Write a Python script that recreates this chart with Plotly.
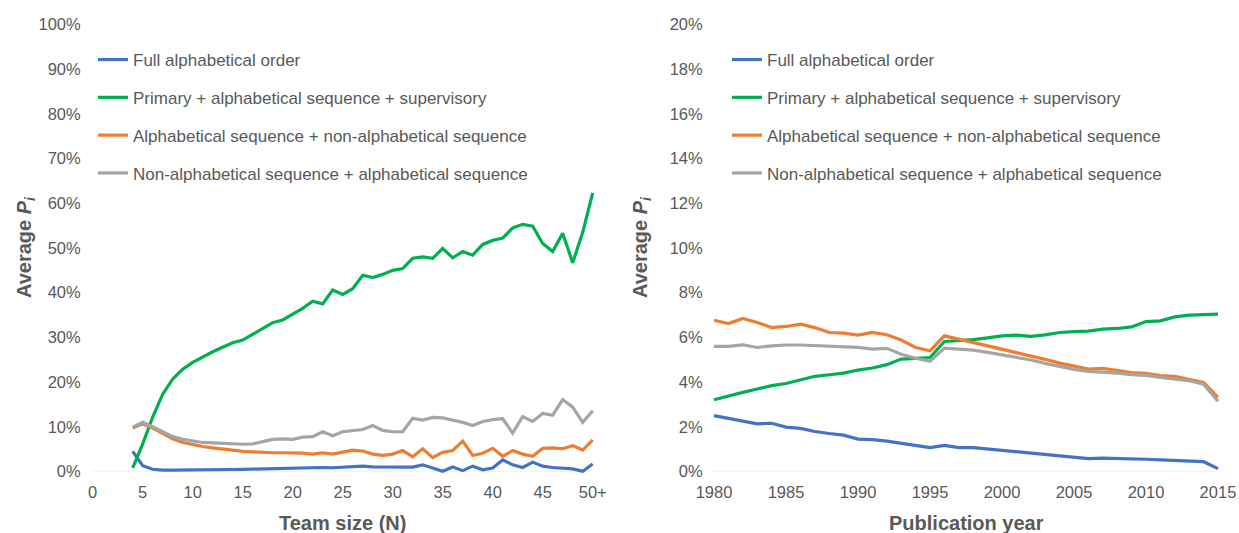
import plotly.graph_objects as go

# Team size categories (50 stands for "50+")
team_size = list(range(4, 51))
team_ticks = [0, 5, 10, 15, 20, 25, 30, 35, 40, 45, 50]
team_tick_text = ['0', '5', '10', '15', '20', '25', '30', '35', '40', '45', '50+']

full_alpha_team = [4.5, 1.3, 0.5, 0.3, 0.3, 0.3, 0.3, 0.3, 0.35, 0.4, 0.45, 0.5,
                   0.55, 0.6, 0.65, 0.8, 0.8, 0.85, 0.95, 0.9, 0.85, 1.0, 1.0,
                   1.2, 1.05, 1.0, 1.05, 1.0, 1.0, 1.5, 0.7, 0.05, 1.0, 0.2, 1.2,
                   0.4, 0.8, 2.6, 1.5, 0.9, 2.1, 1.2, 0.9, 0.8, 0.6, 0.05, 1.7]
primary_team = [0.8, 6.2, 12.2, 17.3, 20.7, 22.9, 24.4, 25.7, 26.8, 27.8, 28.8,
                29.4, 30.7, 32.2, 33.3, 33.9, 35.2, 36.5, 38.1, 37.5, 40.6,
                39.6, 40.9, 43.9, 43.4, 44.1, 45.0, 45.4, 47.7, 48.0, 47.7,
                49.9, 47.8, 49.2, 48.4, 50.8, 51.7, 52.2, 54.5, 55.3, 54.9,
                51.0, 49.2, 53.3, 46.7, 53.5, 62.3]
alpha_nonalpha_team = [9.7, 10.7, 9.7, 8.4, 7.3, 6.5, 6.0, 5.6, 5.3, 5.1, 4.8,
                       4.5, 4.4, 4.2, 4.2, 4.2, 4.2, 4.1, 3.9, 4.2, 3.9, 4.3,
                       4.8, 4.6, 3.9, 3.6, 3.9, 4.7, 3.3, 5.1, 3.1, 4.3, 4.7,
                       6.8, 3.6, 4.1, 5.2, 3.4, 4.7, 3.9, 3.4, 5.2, 5.3, 5.1,
                       5.8, 4.8, 7.1]
nonalpha_alpha_team = [9.9, 11.0, 10.0, 8.8, 7.8, 7.2, 6.8, 6.5, 6.4, 6.3, 6.1,
                       6.1, 6.2, 6.7, 7.2, 7.3, 7.2, 7.7, 7.8, 8.9, 8.0, 8.9,
                       9.1, 9.4, 10.3, 9.2, 8.9, 8.9, 11.9, 11.5, 12.1, 12.0,
                       11.5, 11.0, 10.3, 11.2, 11.6, 11.8, 8.6, 12.3, 11.2,
                       13.0, 12.6, 16.1, 14.4, 11.0, 13.6]

# Publication years
years = list(range(1980, 2016))
year_ticks = [1980, 1985, 1990, 1995, 2000, 2005, 2010, 2015]

full_alpha_year = [2.50, 2.38, 2.27, 2.13, 2.16, 1.99, 1.93, 1.79, 1.70, 1.63,
                   1.45, 1.43, 1.36, 1.27, 1.17, 1.07, 1.17, 1.07, 1.07, 1.01,
                   0.95, 0.88, 0.80, 0.74, 0.68, 0.64, 0.58, 0.60, 0.59, 0.57,
                   0.55, 0.52, 0.49, 0.47, 0.44, 0.13]
primary_year = [3.21, 3.39, 3.54, 3.69, 3.84, 3.94, 4.09, 4.26, 4.33, 4.40,
                4.54, 4.63, 4.78, 5.03, 5.06, 5.10, 5.82, 5.85, 5.90, 5.98,
                6.07, 6.10, 6.05, 6.11, 6.22, 6.26, 6.28, 6.37, 6.40, 6.47,
                6.71, 6.74, 6.92, 7.00, 7.01, 7.04]
alpha_nonalpha_year = [6.77, 6.62, 6.85, 6.67, 6.44, 6.49, 6.59, 6.44, 6.22,
                       6.19, 6.10, 6.22, 6.12, 5.88, 5.55, 5.40, 6.07, 5.92,
                       5.80, 5.65, 5.48, 5.33, 5.18, 5.02, 4.85, 4.73, 4.58,
                       4.61, 4.51, 4.43, 4.39, 4.29, 4.26, 4.14, 3.99, 3.32]
nonalpha_alpha_year = [5.60, 5.60, 5.67, 5.55, 5.62, 5.66, 5.66, 5.64, 5.62,
                       5.58, 5.55, 5.48, 5.51, 5.25, 5.07, 4.93, 5.52, 5.48,
                       5.43, 5.33, 5.22, 5.13, 4.99, 4.84, 4.69, 4.57, 4.48,
                       4.45, 4.40, 4.33, 4.30, 4.21, 4.14, 4.06, 3.91, 3.14]

team_pct_ticks = list(range(0, 101, 10))
year_pct_ticks = list(range(0, 21, 2))

series_names = ['Full alphabetical order',
                'Primary + alphabetical sequence + supervisory',
                'Alphabetical sequence + non-alphabetical sequence',
                'Non-alphabetical sequence + alphabetical sequence']
colors = ['#4472C4', '#00B050', '#ED7D31', '#A5A5A5']

FONT = 'Liberation Sans, Arial, sans-serif'
TEXT = '#595959'
W, H = 1239, 533
MT, MB = 20, 57


def px(x):
    return x / W


def py(y):
    # pixel row -> paper fraction
    return (H - MB - y) / (H - MT - MB)


fig = go.Figure()

left = [full_alpha_team, primary_team, alpha_nonalpha_team, nonalpha_alpha_team]
right = [full_alpha_year, primary_year, alpha_nonalpha_year, nonalpha_alpha_year]

for i, (name, color, vals) in enumerate(zip(series_names, colors, left)):
    fig.add_trace(go.Scatter(
        x=team_size, y=vals, name=name, mode='lines',
        line=dict(color=color, width=3.2),
        xaxis='x', yaxis='y', legend='legend',
        legendgroup=f'l{i}'))

for i, (name, color, vals) in enumerate(zip(series_names, colors, right)):
    fig.add_trace(go.Scatter(
        x=years, y=vals, name=name, mode='lines',
        line=dict(color=color, width=3.2),
        xaxis='x2', yaxis='y2', legend='legend2',
        legendgroup=f'r{i}'))

tick_font = dict(family=FONT, size=16.5, color=TEXT)
title_font = dict(family=FONT, size=20, color=TEXT)

axis_common = dict(showgrid=False, zeroline=False, showline=False, ticks='',
                   tickfont=tick_font, automargin=False)

l_dom = [px(87.7), px(597.7)]
r_dom = [px(709.7), px(1222.3)]

legend_style = dict(xanchor='left', yanchor='top',
                    font=dict(family=FONT, size=17, color=TEXT),
                    tracegroupgap=12.7, bgcolor='rgba(0,0,0,0)')

fig.update_layout(
    template='simple_white',
    width=W, height=H,
    margin=dict(l=0, r=0, t=MT, b=MB),
    paper_bgcolor='white', plot_bgcolor='white',
    showlegend=True,
    xaxis=dict(domain=l_dom, range=[-0.5, 50.5], tickvals=team_ticks,
               ticktext=team_tick_text, anchor='y', ticklabelstandoff=4,
               **axis_common),
    yaxis=dict(domain=[0, 1], range=[-1, 101], tickvals=team_pct_ticks,
               ticktext=[f'{v}%' for v in team_pct_ticks], anchor='x',
               ticklabelstandoff=6, **axis_common),
    xaxis2=dict(domain=r_dom, range=[1979.7, 2015.3], tickvals=year_ticks,
                ticktext=[str(v) for v in year_ticks], anchor='y2',
                ticklabelstandoff=4, **axis_common),
    yaxis2=dict(domain=[0, 1], range=[-0.2, 20.2], tickvals=year_pct_ticks,
                ticktext=[f'{v}%' for v in year_pct_ticks], anchor='x2',
                ticklabelstandoff=6, **axis_common),
    legend=dict(x=px(93), y=py(42), **legend_style),
    legend2=dict(x=px(727), y=py(42), **legend_style),
    shapes=[
        dict(type='line', xref='x', yref='y', x0=team_ticks[0], x1=team_ticks[-1],
             y0=0, y1=0, line=dict(color='#D9D9D9', width=1.5), layer='below'),
        dict(type='line', xref='x2', yref='y2', x0=year_ticks[0], x1=year_ticks[-1],
             y0=0, y1=0, line=dict(color='#D9D9D9', width=1.5), layer='below'),
    ],
    annotations=[
        dict(text='<b>Team size (N)</b>', x=px(342.7), y=py(523),
             xref='paper', yref='paper', showarrow=False,
             font=title_font, xanchor='center', yanchor='middle'),
        dict(text='<b>Publication year</b>', x=px(966), y=py(523),
             xref='paper', yref='paper', showarrow=False,
             font=title_font, xanchor='center', yanchor='middle'),
        dict(text='<b>Average <i>P<sub>i</sub></i></b>', x=px(25), y=py(247),
             xref='paper', yref='paper', showarrow=False, textangle=-90,
             font=title_font, xanchor='center', yanchor='middle'),
        dict(text='<b>Average <i>P<sub>i</sub></i></b>', x=px(641), y=py(247),
             xref='paper', yref='paper', showarrow=False, textangle=-90,
             font=title_font, xanchor='center', yanchor='middle'),
    ],
)

fig.write_html('out.html',
               config={'displayModeBar': False},
               post_script="document.body.style.margin='0';")
